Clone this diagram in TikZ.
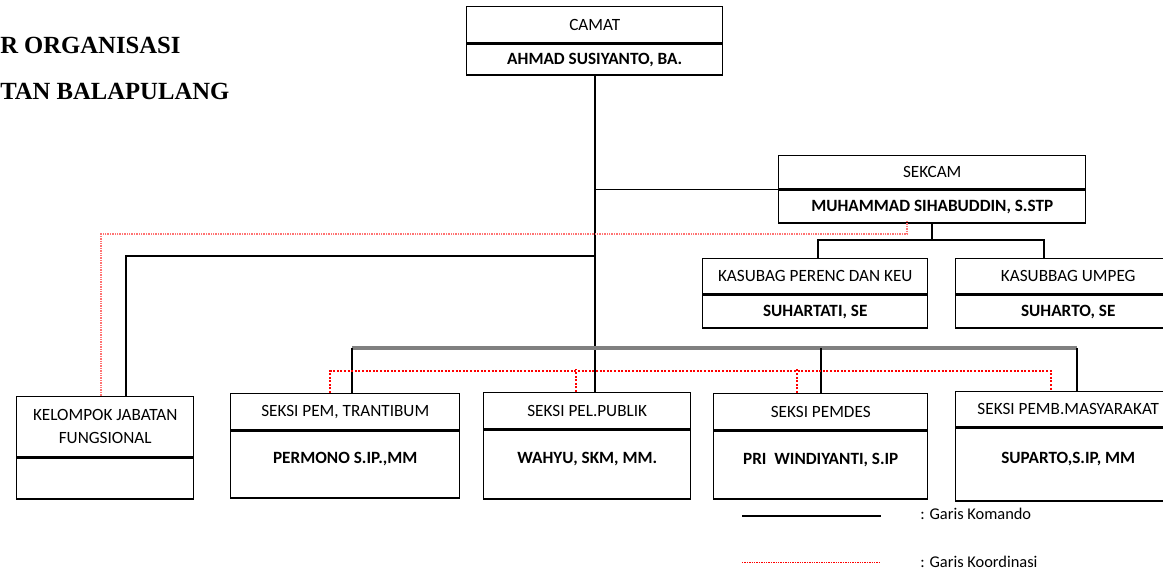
\documentclass[tikz,border=0pt]{standalone}
\usepackage{fontspec}
\setmainfont{Carlito}
\newfontfamily\titlefont{Liberation Serif}
\usepackage{tikz}
\usetikzlibrary{positioning}
\colorlet{colorKomando}{black}
\colorlet{colorBus}{black!50}
\colorlet{colorKoordinasi}{red}
\colorlet{colorKoordinasiLight}{red!55}
\tikzset{unit/.style={draw, line width=1.1pt, inner sep=2pt, align=center, font=\fontsize{12.9}{17}\selectfont},
  unitName/.style={unit, font=\fontsize{12.9}{17}\selectfont\bfseries},
  seksiName/.style={unitName, text depth=10pt},
  komando/.style={colorKomando, line width=1.3pt},
  koordinasi/.style={colorKoordinasi, line width=0.9pt, dash pattern=on 1.5pt off 1.2pt},
  koordinasiLight/.style={colorKoordinasiLight, line width=0.9pt, dash pattern=on 1pt off 0.8pt},
  legend/.style={anchor=west, inner sep=0pt, font=\fontsize{12.3}{14}\selectfont}}

\begin{document}
\begin{tikzpicture}[x=0.75pt, y=-0.75pt, node distance=0pt]
\useasboundingbox (0,0) rectangle (1163,571);
% judul
\node[anchor=base west, inner sep=0pt, font=\fontsize{18.5}{22}\selectfont\titlefont\bfseries] (judulA) at (0,53) {R ORGANISASI};
\node[anchor=base west, inner sep=0pt, font=\fontsize{18.5}{22}\selectfont\titlefont\bfseries] (judulB) at (0,99) {TAN BALAPULANG};
% pimpinan
\node[unit, anchor=north west, minimum width=192pt, minimum height=27pt] (camatT) at (466,6) {CAMAT};
\node[unitName, below=of camatT, minimum width=192pt, minimum height=23.25pt] (camatN) {AHMAD SUSIYANTO, BA.};
\node[unit, anchor=north west, minimum width=230.25pt, minimum height=24.75pt] (sekcamT) at (778,155) {SEKCAM};
\node[unitName, below=of sekcamT, minimum width=230.25pt, minimum height=24.75pt] (sekcamN) {MUHAMMAD SIHABUDDIN, S.STP};
% kasubag
\node[unit, anchor=north west, minimum width=168.75pt, minimum height=26.25pt] (perencT) at (702,258) {KASUBAG PERENC DAN KEU};
\node[unitName, below=of perencT, minimum width=168.75pt, minimum height=24.75pt] (perencN) {SUHARTATI, SE};
\node[unit, anchor=north west, minimum width=168.75pt, minimum height=26.25pt] (umpegT) at (955,258) {KASUBBAG UMPEG};
\node[unitName, below=of umpegT, minimum width=168.75pt, minimum height=24.75pt] (umpegN) {SUHARTO, SE};
% kelompok jabatan fungsional
\node[unit, anchor=north west, minimum width=132.75pt, minimum height=45pt] (kelompokT) at (16,396) {KELOMPOK JABATAN\\FUNGSIONAL};
\node[unitName, below=of kelompokT, minimum width=132.75pt, minimum height=30.75pt] (kelompokN) {};
% seksi
\node[unit, anchor=north west, minimum width=171.75pt, minimum height=27pt] (pemT) at (230,393) {SEKSI PEM, TRANTIBUM};
\node[seksiName, below=of pemT, minimum width=171.75pt, minimum height=50.25pt] (pemN) {PERMONO S.IP.,MM};
\node[unit, anchor=north west, minimum width=155.25pt, minimum height=27pt] (pelT) at (483,392) {SEKSI PEL.PUBLIK};
\node[seksiName, below=of pelT, minimum width=155.25pt, minimum height=51.75pt] (pelN) {WAHYU, SKM, MM.};
\node[unit, anchor=north west, minimum width=160.5pt, minimum height=27pt] (pemdesT) at (713,393) {SEKSI PEMDES};
\node[seksiName, below=of pemdesT, minimum width=160.5pt, minimum height=51pt] (pemdesN) {PRI\ \ WINDIYANTI, S.IP};
\node[unit, anchor=north west, minimum width=168.75pt, minimum height=26.25pt] (pembT) at (955,391) {SEKSI PEMB.MASYARAKAT};
\node[seksiName, below=of pembT, minimum width=168.75pt, minimum height=54.75pt] (pembN) {SUPARTO,S.IP, MM};
% garis komando
\coordinate (busKasubag) at (0,240);
\coordinate (busKelompok) at (0,256);
\coordinate (busSeksi) at (0,348);
\coordinate (dropPerenc) at (818,258);
\coordinate (dropUmpeg) at (1044,258);
\coordinate (dropKelompok) at (126,396);
\coordinate (dropPem) at (352,393);
\coordinate (dropPemb) at (1077,391);
\draw[komando] (camatN.south) -- (camatN.south |- pelT.north);
\draw[komando] (camatN.south |- sekcamT.south west) -- (sekcamT.south west);
\draw[komando] (sekcamN.south) -- (sekcamN.south |- busKasubag);
\draw[komando] (dropPerenc) |- (dropUmpeg |- busKasubag) -- (dropUmpeg);
\draw[komando] (camatN.south |- busKelompok) -| (dropKelompok);
\draw[colorBus, line width=2.4pt] (dropPem |- busSeksi) -- (dropPemb |- busSeksi);
\draw[komando] (dropPem |- busSeksi) -- (dropPem);
\draw[komando] (pemdesT.north |- busSeksi) -- (pemdesT.north);
\draw[komando] (dropPemb |- busSeksi) -- (dropPemb);
% garis koordinasi
\coordinate (busKoordA) at (0,234);
\coordinate (busKoordB) at (0,371);
\coordinate (koordSekcam) at (907,221);
\coordinate (koordKelompok) at (101,396);
\coordinate (koordPem) at (330,393);
\coordinate (koordPel) at (576,392);
\coordinate (koordPemdes) at (797,393);
\coordinate (koordPemb) at (1051,391);
\draw[koordinasiLight] (koordSekcam) |- (koordKelompok |- busKoordA) -- (koordKelompok);
\draw[koordinasi] (koordPem) |- (koordPemb |- busKoordB) -- (koordPemb);
\draw[koordinasi] (koordPel) -- ([yshift=1.5pt]koordPel |- busKoordB);
\draw[koordinasi] (koordPemdes) -- ([yshift=1.5pt]koordPemdes |- busKoordB);
% keterangan
\coordinate (legKomandoA) at (742,516);
\coordinate (legKomandoB) at (881,516);
\coordinate (legKoordA) at (742,562);
\coordinate (legKoordB) at (881,562);
\draw[komando] (legKomandoA) -- (legKomandoB);
\draw[koordinasi, line width=0.7pt, dash pattern=on 1pt off 0.8pt] (legKoordA) -- (legKoordB);
\node[legend] (legKomando) at (920,514) {: Garis Komando};
\node[legend] (legKoord) at (920,562) {: Garis Koordinasi};
\end{tikzpicture}
\end{document}
